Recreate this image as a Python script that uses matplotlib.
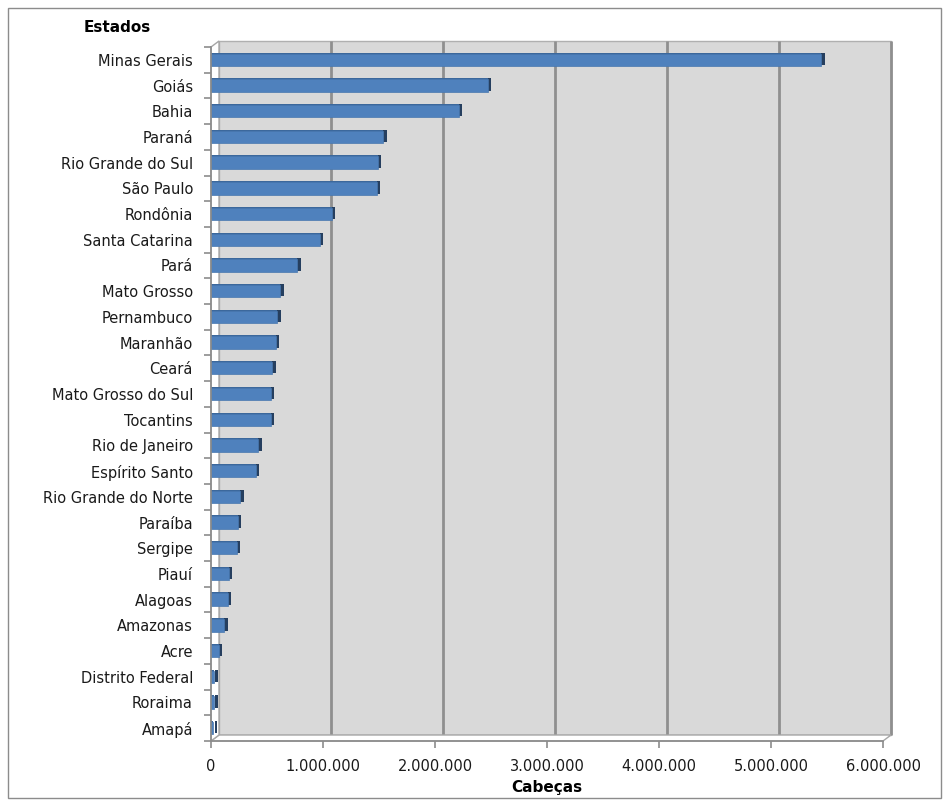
import matplotlib
matplotlib.use("Agg")
import matplotlib.pyplot as plt
import matplotlib.transforms as mtransforms
from matplotlib.patches import Rectangle, Polygon
from matplotlib.ticker import FuncFormatter, FixedLocator
import numpy as np

estados = ["Minas Gerais", "Goiás", "Bahia", "Paraná", "Rio Grande do Sul", "São Paulo",
           "Rondônia", "Santa Catarina", "Pará", "Mato Grosso", "Pernambuco", "Maranhão",
           "Ceará", "Mato Grosso do Sul", "Tocantins", "Rio de Janeiro", "Espírito Santo",
           "Rio Grande do Norte", "Paraíba", "Sergipe", "Piauí", "Alagoas", "Amazonas",
           "Acre", "Distrito Federal", "Roraima", "Amapá"]
cabecas = [5450000, 2470000, 2210000, 1540000, 1490000, 1480000,
           1080000, 970000, 770000, 620000, 590000, 580000,
           545000, 535000, 535000, 420000, 400000,
           260000, 240000, 230000, 160000, 150000, 120000,
           70000, 30000, 30000, 20000]
xticks = [0, 1000000, 2000000, 3000000, 4000000, 5000000, 6000000]

W, H = 950, 801
fig = plt.figure(figsize=(W / 100, H / 100), dpi=100)
fig.patch.set_facecolor("white")

# outer border
fig.patches.append(Rectangle((8 / W, 3 / H), 933 / W, 790 / H, transform=fig.transFigure,
                             fill=False, edgecolor="#8c8c8c", linewidth=1.0, zorder=-5))

left, right = 211 / W, 883 / W
bottom, top = 1 - 741 / H, 1 - 47 / H
ax = fig.add_axes([left, bottom, right - left, top - bottom])
ax.set_facecolor("none")

n = len(estados)
ypos = np.arange(n)
ax.set_xlim(0, 6000000)
ax.set_ylim(n - 0.5, -0.5)

# 3D offset (back wall)
dx, dy = 8 / 100, 6 / 100
back = ax.transData + mtransforms.ScaledTranslation(dx, dy, fig.dpi_scale_trans)

# back wall
ax.add_patch(Rectangle((0, -0.5), 6000000, n, transform=back, facecolor="#d9d9d9",
                       edgecolor="#b0b0b0", linewidth=1.0, zorder=0, clip_on=False))
for xv in xticks[1:]:
    ax.plot([xv, xv], [-0.5, n - 0.5], transform=back, color="#8f8f8f", linewidth=2.0,
            zorder=1, solid_capstyle="butt", clip_on=False)

def disp(x, y, shifted=False):
    t = back if shifted else ax.transData
    return t.transform((x, y))

ident = mtransforms.IdentityTransform()
floor = [disp(0, n - 0.5), disp(6000000, n - 0.5), disp(6000000, n - 0.5, True), disp(0, n - 0.5, True)]
ax.add_patch(Polygon(floor, closed=True, transform=ident, facecolor="white",
                     edgecolor="#a6a6a6", linewidth=1.0, zorder=1.5, clip_on=False))
side = [disp(0, -0.5), disp(0, n - 0.5), disp(0, n - 0.5, True), disp(0, -0.5, True)]
ax.add_patch(Polygon(side, closed=True, transform=ident, facecolor="white",
                     edgecolor="#a6a6a6", linewidth=1.0, zorder=1.5, clip_on=False))

# bars: end face, top face, front face
bh = 0.48
end_t = ax.transData + mtransforms.ScaledTranslation(3.5 / 100, 1.0 / 100, fig.dpi_scale_trans)
top_t = ax.transData + mtransforms.ScaledTranslation(0, 1.0 / 100, fig.dpi_scale_trans)
ax.barh(ypos, cabecas, height=bh, color="#263f5f", transform=end_t, zorder=3, clip_on=False)
ax.barh(ypos, cabecas, height=bh, color="#3c689c", transform=top_t, zorder=3.5, clip_on=False)
ax.barh(ypos, cabecas, height=bh, color="#4f81bd", edgecolor="#4878b0", linewidth=0.5,
        zorder=4, clip_on=False)

# axes styling
for s in ["top", "right"]:
    ax.spines[s].set_visible(False)
for s in ["left", "bottom"]:
    ax.spines[s].set_color("#8c8c8c")
    ax.spines[s].set_linewidth(1.2)
    ax.spines[s].set_zorder(5)

ax.set_yticks(ypos)
ax.set_yticklabels(estados)
ax.yaxis.set_minor_locator(FixedLocator(np.arange(-0.5, n, 1.0)))
ax.tick_params(axis="y", which="major", length=0, pad=13, labelsize=10.5, labelcolor="#1a1a1a")
ax.tick_params(axis="y", which="minor", length=5, width=1.2, color="#8c8c8c")

ax.set_xticks(xticks)
ax.xaxis.set_major_formatter(FuncFormatter(lambda v, p: f"{int(v):,}".replace(",", ".")))
ax.tick_params(axis="x", which="major", length=5, width=1.2, color="#8c8c8c", pad=8,
               labelsize=10.5, labelcolor="#1a1a1a")

ax.set_xlabel("Cabeças", fontsize=11, fontweight="bold", labelpad=4)
fig.text(117 / W, 1 - 27 / H, "Estados", ha="center", va="center", fontsize=11, fontweight="bold")

fig.savefig("out.png", dpi=100)
